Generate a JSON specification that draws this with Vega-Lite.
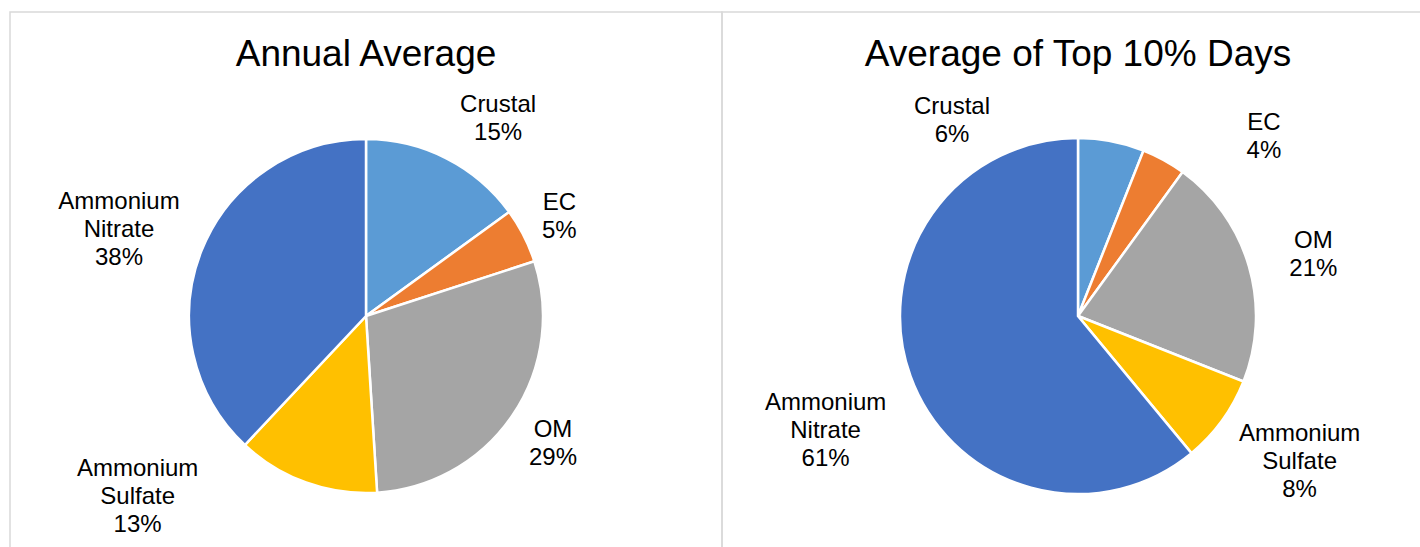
{
  "$schema": "https://vega.github.io/schema/vega-lite/v6.json",
  "padding": {"left": 9, "top": 11, "right": 0, "bottom": 0},
  "spacing": 0,
  "bounds": "flush",
  "config": {
    "font": "Liberation Sans",
    "title": {"fontSize": 37, "fontWeight": "normal", "color": "#000000", "font": "Liberation Sans", "anchor": "middle", "baseline": "alphabetic", "offset": -62},
    "text": {"fontSize": 24, "lineBreak": "\n", "lineHeight": 28, "align": "center", "baseline": "middle", "color": "#000000", "font": "Liberation Sans"},
    "arc": {"stroke": "#ffffff", "strokeWidth": 2.5}
  },
  "datasets": {
    "annual": [
      {"seq": 1, "component": "Crustal", "share": 15, "label": "Crustal\n15%"},
      {"seq": 2, "component": "EC", "share": 5, "label": "EC\n5%"},
      {"seq": 3, "component": "OM", "share": 29, "label": "OM\n29%"},
      {"seq": 4, "component": "Ammonium Sulfate", "share": 13, "label": "Ammonium\nSulfate\n13%"},
      {"seq": 5, "component": "Ammonium Nitrate", "share": 38, "label": "Ammonium\nNitrate\n38%"}
    ],
    "top10": [
      {"seq": 1, "component": "Crustal", "share": 6, "label": "Crustal\n6%"},
      {"seq": 2, "component": "EC", "share": 4, "label": "EC\n4%"},
      {"seq": 3, "component": "OM", "share": 21, "label": "OM\n21%"},
      {"seq": 4, "component": "Ammonium Sulfate", "share": 8, "label": "Ammonium\nSulfate\n8%"},
      {"seq": 5, "component": "Ammonium Nitrate", "share": 61, "label": "Ammonium\nNitrate\n61%"}
    ]
  },
  "hconcat": [
    {
      "width": 712,
      "height": 608,
      "view": {"stroke": "#d9d9d9", "strokeWidth": 1.5},
      "title": {"text": "Annual Average"},
      "data": {"name": "annual"},
      "encoding": {
        "theta": {"field": "share", "type": "quantitative", "stack": true},
        "order": {"field": "seq", "type": "quantitative"},
        "detail": {"field": "component", "type": "nominal"}
      },
      "layer": [
        {
          "mark": {"type": "arc", "outerRadius": 177},
          "encoding": {
            "color": {"field": "component", "type": "nominal", "legend": null,
              "scale": {"domain": ["Crustal", "EC", "OM", "Ammonium Sulfate", "Ammonium Nitrate"],
                        "range": ["#5b9bd5", "#ed7d31", "#a5a5a5", "#ffc000", "#4472c4"]}}
          }
        },
        {
          "mark": {"type": "text", "radius": 249, "thetaOffset": 0.0878},
          "encoding": {"text": {"field": "label", "type": "nominal", "condition": {"test": "datum.component !== 'Crustal'", "value": ""}}}
        },
        {
          "mark": {"type": "text", "radius": 224, "thetaOffset": -0.0585},
          "encoding": {"text": {"field": "label", "type": "nominal", "condition": {"test": "datum.component !== 'EC'", "value": ""}}}
        },
        {
          "mark": {"type": "text", "radius": 219, "thetaOffset": -0.0494},
          "encoding": {"text": {"field": "label", "type": "nominal", "condition": {"test": "datum.component !== 'OM'", "value": ""}}}
        },
        {
          "mark": {"type": "text", "radius": 275, "thetaOffset": 0.6343},
          "encoding": {"text": {"field": "label", "type": "nominal", "condition": {"test": "datum.component !== 'Ammonium Sulfate'", "value": ""}}}
        },
        {
          "mark": {"type": "text", "radius": 272, "thetaOffset": 0.0553},
          "encoding": {"text": {"field": "label", "type": "nominal", "condition": {"test": "datum.component !== 'Ammonium Nitrate'", "value": ""}}}
        }
      ]
    },
    {
      "width": 712,
      "height": 608,
      "view": {"stroke": "#d9d9d9", "strokeWidth": 1.5},
      "title": {"text": "Average of Top 10% Days"},
      "data": {"name": "top10"},
      "encoding": {
        "theta": {"field": "share", "type": "quantitative", "stack": true},
        "order": {"field": "seq", "type": "quantitative"},
        "detail": {"field": "component", "type": "nominal"}
      },
      "layer": [
        {
          "mark": {"type": "arc", "outerRadius": 178},
          "encoding": {
            "color": {"field": "component", "type": "nominal", "legend": null,
              "scale": {"domain": ["Crustal", "EC", "OM", "Ammonium Sulfate", "Ammonium Nitrate"],
                        "range": ["#5b9bd5", "#ed7d31", "#a5a5a5", "#ffc000", "#4472c4"]}}
          }
        },
        {
          "mark": {"type": "text", "radius": 244, "thetaOffset": -0.7309},
          "encoding": {"text": {"field": "label", "type": "nominal", "condition": {"test": "datum.component !== 'Crustal'", "value": ""}}}
        },
        {
          "mark": {"type": "text", "radius": 268, "thetaOffset": 0.2642},
          "encoding": {"text": {"field": "label", "type": "nominal", "condition": {"test": "datum.component !== 'EC'", "value": ""}}}
        },
        {
          "mark": {"type": "text", "radius": 247, "thetaOffset": -0.0262},
          "encoding": {"text": {"field": "label", "type": "nominal", "condition": {"test": "datum.component !== 'OM'", "value": ""}}}
        },
        {
          "mark": {"type": "text", "radius": 251, "thetaOffset": -0.1396},
          "encoding": {"text": {"field": "label", "type": "nominal", "condition": {"test": "datum.component !== 'Ammonium Sulfate'", "value": ""}}}
        },
        {
          "mark": {"type": "text", "radius": 267, "thetaOffset": 0.0131},
          "encoding": {"text": {"field": "label", "type": "nominal", "condition": {"test": "datum.component !== 'Ammonium Nitrate'", "value": ""}}}
        }
      ]
    }
  ]
}
